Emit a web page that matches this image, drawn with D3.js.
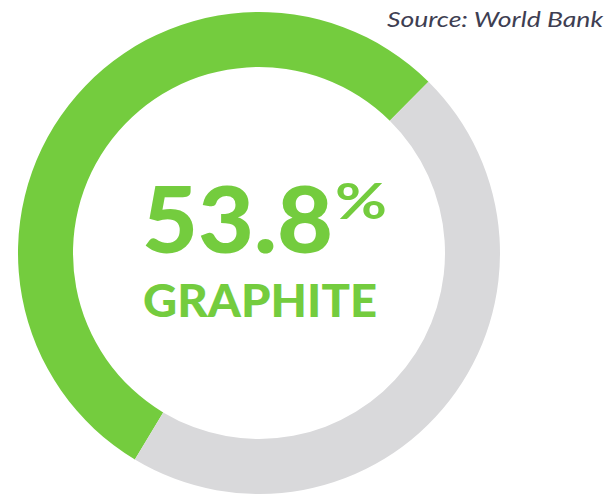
<!DOCTYPE html>
<html>
<head>
<meta charset="utf-8">
<script src="https://cdn.jsdelivr.net/npm/d3@7"></script>
<style>
  html, body { margin: 0; padding: 0; background: #fff; }
</style>
</head>
<body>
<svg id="chart" xmlns="http://www.w3.org/2000/svg" width="611" height="497"></svg>
<script>
const categories = ['Graphite', 'Other'];
const shares = [53.8, 46.2];
const colors = ['#74cc3e', '#d9d9db'];
const headline = '53.8';
const label = 'GRAPHITE';
const source = 'Source: World Bank';

const center = { x: 259, y: 253 };
const outerRadius = 241;
const innerRadius = 186;
// green segment starts at lower left (about 7 o'clock)
const startAngle = (-149 * Math.PI) / 180;

const svg = d3.select('#chart');

const pie = d3
  .pie()
  .sort(null)
  .value(d => d.value)
  .startAngle(startAngle)
  .endAngle(startAngle + 2 * Math.PI);

const arc = d3.arc().innerRadius(innerRadius).outerRadius(outerRadius);

const data = categories.map((c, i) => ({ name: c, value: shares[i] }));

const ring = svg
  .append('g')
  .attr('transform', `translate(${center.x},${center.y})`);

ring
  .selectAll('path')
  .data(pie(data))
  .enter()
  .append('path')
  .attr('d', arc)
  .attr('fill', (d, i) => colors[i]);

// big number
svg
  .append('text')
  .attr('x', 142)
  .attr('y', 253)
  .attr('font-family', 'Lato, sans-serif')
  .attr('font-weight', 900)
  .attr('font-size', 92)
  .attr('fill', colors[0])
  .attr('textLength', 191)
  .attr('lengthAdjust', 'spacingAndGlyphs')
  .text(headline);

svg
  .append('text')
  .attr('x', 335)
  .attr('y', 219)
  .attr('font-family', 'Lato, sans-serif')
  .attr('font-weight', 700)
  .attr('font-size', 50)
  .attr('fill', colors[0])
  .attr('textLength', 52)
  .attr('lengthAdjust', 'spacingAndGlyphs')
  .text('%');

svg
  .append('text')
  .attr('x', 143)
  .attr('y', 317)
  .attr('font-family', 'Lato, sans-serif')
  .attr('font-weight', 900)
  .attr('font-size', 45)
  .attr('fill', colors[0])
  .attr('textLength', 234)
  .attr('lengthAdjust', 'spacingAndGlyphs')
  .text(label);

svg
  .append('text')
  .attr('x', 387)
  .attr('y', 27)
  .attr('font-family', 'Lato, sans-serif')
  .attr('font-style', 'italic')
  .attr('font-weight', 400)
  .attr('font-size', 21)
  .attr('fill', '#3e3e52')
  .attr('textLength', 216)
  .attr('lengthAdjust', 'spacingAndGlyphs')
  .text(source);
</script>
</body>
</html>
